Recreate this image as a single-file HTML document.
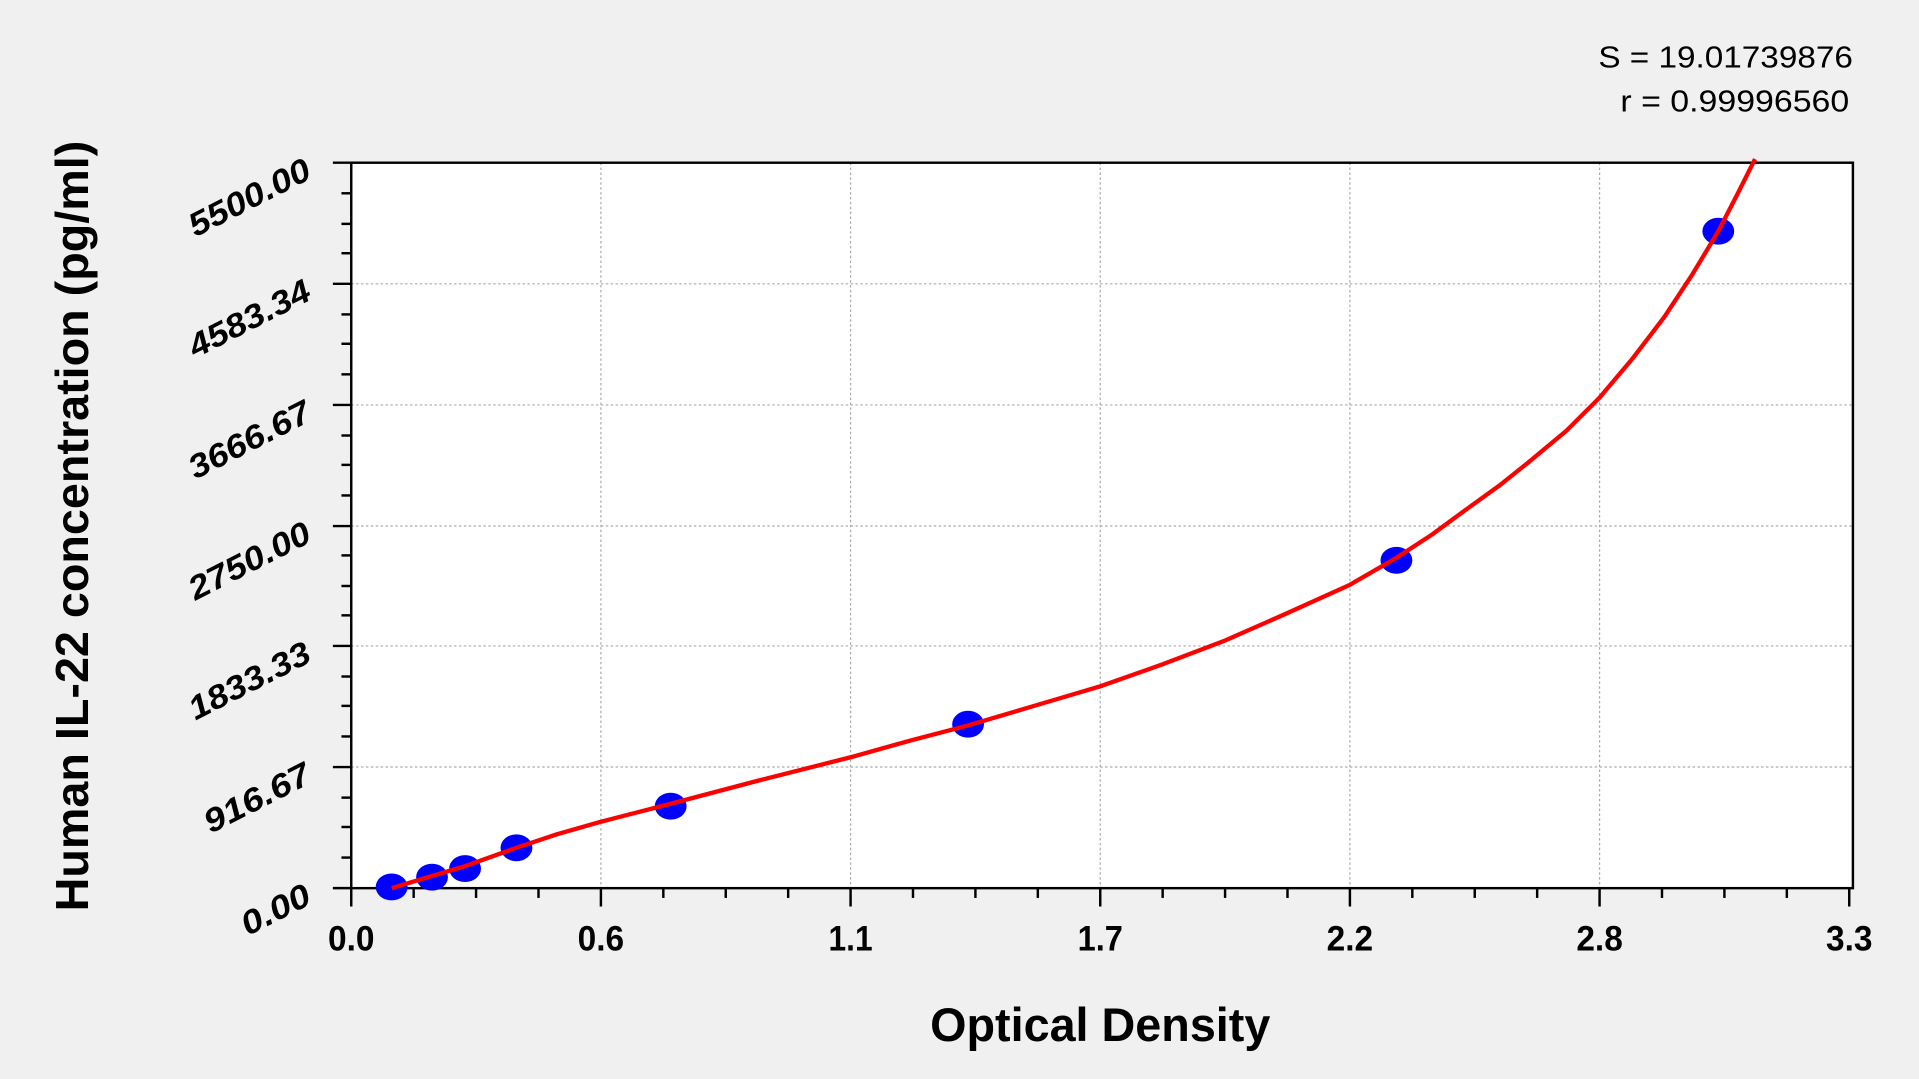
<!DOCTYPE html>
<html><head><meta charset="utf-8"><style>
html,body{margin:0;padding:0;background:#f0f0f0;overflow:hidden}
svg{display:block}
text{font-family:"Liberation Sans",Arial,sans-serif}
</style></head><body>
<svg width="1919" height="1079" viewBox="0 0 1568 882" preserveAspectRatio="none" xmlns="http://www.w3.org/2000/svg">
<rect width="1568" height="882" fill="#f0f0f0"/>
<rect x="287" y="133" width="1227" height="593" fill="#fff"/>
<g stroke="#aaa" stroke-width="1" stroke-dasharray="2,2">
<line x1="491" y1="133" x2="491" y2="726"/><line x1="695" y1="133" x2="695" y2="726"/>
<line x1="899" y1="133" x2="899" y2="726"/><line x1="1103" y1="133" x2="1103" y2="726"/>
<line x1="1307" y1="133" x2="1307" y2="726"/>
<line x1="287" y1="232" x2="1514" y2="232"/><line x1="287" y1="331" x2="1514" y2="331"/>
<line x1="287" y1="430" x2="1514" y2="430"/><line x1="287" y1="528" x2="1514" y2="528"/>
<line x1="287" y1="627" x2="1514" y2="627"/>
</g>
<rect x="287" y="133" width="1227" height="593" fill="none" stroke="#000" stroke-width="2"/>
<g stroke="#000" stroke-width="2">
<line x1="287" y1="726" x2="287" y2="741"/><line x1="338" y1="726" x2="338" y2="734"/><line x1="389" y1="726" x2="389" y2="734"/><line x1="440" y1="726" x2="440" y2="734"/>
<line x1="491" y1="726" x2="491" y2="741"/><line x1="542" y1="726" x2="542" y2="734"/><line x1="593" y1="726" x2="593" y2="734"/><line x1="644" y1="726" x2="644" y2="734"/>
<line x1="695" y1="726" x2="695" y2="741"/><line x1="746" y1="726" x2="746" y2="734"/><line x1="797" y1="726" x2="797" y2="734"/><line x1="848" y1="726" x2="848" y2="734"/>
<line x1="899" y1="726" x2="899" y2="741"/><line x1="950" y1="726" x2="950" y2="734"/><line x1="1001" y1="726" x2="1001" y2="734"/><line x1="1052" y1="726" x2="1052" y2="734"/>
<line x1="1103" y1="726" x2="1103" y2="741"/><line x1="1154" y1="726" x2="1154" y2="734"/><line x1="1205" y1="726" x2="1205" y2="734"/><line x1="1256" y1="726" x2="1256" y2="734"/>
<line x1="1307" y1="726" x2="1307" y2="741"/><line x1="1358" y1="726" x2="1358" y2="734"/><line x1="1409" y1="726" x2="1409" y2="734"/><line x1="1460" y1="726" x2="1460" y2="734"/>
<line x1="1511" y1="726" x2="1511" y2="741"/>
<line x1="272" y1="726" x2="287" y2="726"/><line x1="279" y1="701" x2="287" y2="701"/><line x1="279" y1="676" x2="287" y2="676"/><line x1="279" y1="652" x2="287" y2="652"/>
<line x1="272" y1="627" x2="287" y2="627"/><line x1="279" y1="602" x2="287" y2="602"/><line x1="279" y1="577" x2="287" y2="577"/><line x1="279" y1="553" x2="287" y2="553"/>
<line x1="272" y1="528" x2="287" y2="528"/><line x1="279" y1="503" x2="287" y2="503"/><line x1="279" y1="479" x2="287" y2="479"/><line x1="279" y1="454" x2="287" y2="454"/>
<line x1="272" y1="430" x2="287" y2="430"/><line x1="279" y1="405" x2="287" y2="405"/><line x1="279" y1="380" x2="287" y2="380"/><line x1="279" y1="356" x2="287" y2="356"/>
<line x1="272" y1="331" x2="287" y2="331"/><line x1="279" y1="306" x2="287" y2="306"/><line x1="279" y1="281" x2="287" y2="281"/><line x1="279" y1="257" x2="287" y2="257"/>
<line x1="272" y1="232" x2="287" y2="232"/><line x1="279" y1="207" x2="287" y2="207"/><line x1="279" y1="183" x2="287" y2="183"/><line x1="279" y1="158" x2="287" y2="158"/>
<line x1="272" y1="133" x2="287" y2="133"/>
</g>
<g font-size="29" font-weight="bold" text-anchor="middle">
<text x="287" y="777" textLength="38" lengthAdjust="spacingAndGlyphs">0.0</text>
<text x="491" y="777" textLength="38" lengthAdjust="spacingAndGlyphs">0.6</text>
<text x="695" y="777" textLength="36" lengthAdjust="spacingAndGlyphs">1.1</text>
<text x="899" y="777" textLength="37" lengthAdjust="spacingAndGlyphs">1.7</text>
<text x="1103" y="777" textLength="38" lengthAdjust="spacingAndGlyphs">2.2</text>
<text x="1307" y="777" textLength="38" lengthAdjust="spacingAndGlyphs">2.8</text>
<text x="1511" y="777" textLength="38" lengthAdjust="spacingAndGlyphs">3.3</text>
</g>
<g font-size="27" font-weight="bold" font-style="italic" text-anchor="end">
<text transform="translate(256,738) rotate(-27)" textLength="60" lengthAdjust="spacingAndGlyphs">0.00</text>
<text transform="translate(256,639) rotate(-27)" textLength="94" lengthAdjust="spacingAndGlyphs">916.67</text>
<text transform="translate(256,540) rotate(-27)" textLength="108" lengthAdjust="spacingAndGlyphs">1833.33</text>
<text transform="translate(256,442) rotate(-27)" textLength="108" lengthAdjust="spacingAndGlyphs">2750.00</text>
<text transform="translate(256,343) rotate(-27)" textLength="108" lengthAdjust="spacingAndGlyphs">3666.67</text>
<text transform="translate(256,244) rotate(-27)" textLength="108" lengthAdjust="spacingAndGlyphs">4583.34</text>
<text transform="translate(256,145) rotate(-27)" textLength="108" lengthAdjust="spacingAndGlyphs">5500.00</text>
</g>
<text x="899" y="851" font-size="39" font-weight="bold" text-anchor="middle" textLength="278" lengthAdjust="spacingAndGlyphs">Optical Density</text>
<text transform="translate(72,430) rotate(-90)" font-size="38" font-weight="bold" text-anchor="middle" textLength="630" lengthAdjust="spacingAndGlyphs">Human IL-22 concentration (pg/ml)</text>
<g font-size="25" text-anchor="end">
<text x="1514" y="55" textLength="208" lengthAdjust="spacingAndGlyphs">S = 19.01739876</text>
<text x="1511" y="91" textLength="187" lengthAdjust="spacingAndGlyphs">r = 0.99996560</text>
</g>
<g fill="#0000ff">
<ellipse cx="320" cy="725" rx="13" ry="11"/><ellipse cx="353" cy="717" rx="13" ry="11"/>
<ellipse cx="380" cy="710" rx="13" ry="11"/><ellipse cx="422" cy="693" rx="13" ry="11"/>
<ellipse cx="548" cy="659" rx="13" ry="11"/><ellipse cx="791" cy="592" rx="13" ry="11"/>
<ellipse cx="1141" cy="458" rx="13" ry="11"/><ellipse cx="1404" cy="189" rx="13" ry="11"/>
</g>
<polyline fill="none" stroke="#ff0000" stroke-width="3.5" stroke-linejoin="round" points="320,726 353,716 380,708 422,693 455,682 490,672 548,657 620,638 695,619 745,605 791,593 845,577 899,561 950,543 1000,524 1050,502 1103,478 1141,456 1170,437 1200,415 1225,397 1250,377 1280,352 1307,325 1334,293 1360,259 1383,224 1404,189 1420,158 1434,130"/>
</svg>
</body></html>
